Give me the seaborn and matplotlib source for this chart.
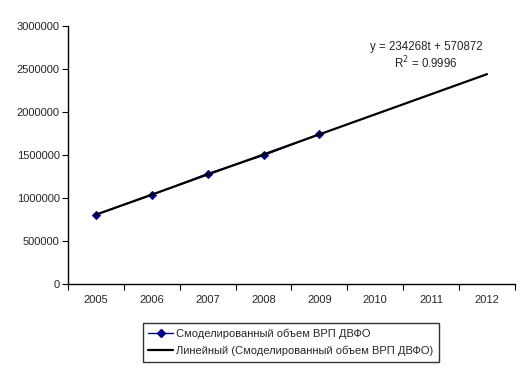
import numpy as np
import pandas as pd
import seaborn as sns
from matplotlib import pyplot as plt
from matplotlib.lines import Line2D

years = ["2005", "2006", "2007", "2008", "2009", "2010", "2011", "2012"]
modeled_years = ["2005", "2006", "2007", "2008", "2009"]
modeled_values = [807000, 1035000, 1285000, 1495000, 1745000]

series_label = "Смоделированный объем ВРП ДВФО"
trend_label = "Линейный (Смоделированный объем ВРП ДВФО)"

sns.set_style("white")
plt.rcParams["font.family"] = ["Liberation Sans", "DejaVu Sans"]

df = pd.DataFrame({"pos": [years.index(y) for y in modeled_years], "value": modeled_values})

# linear trend (as Excel does), fitted on t = 1..5 and extended to 2012
t = np.arange(1, len(modeled_values) + 1)
slope, intercept = np.polyfit(t, modeled_values, 1)
t_all = np.arange(1, len(years) + 1)
trend = pd.DataFrame({"pos": t_all - 1, "value": slope * t_all + intercept})

fig = plt.figure(figsize=(5.29, 3.77), dpi=100)
ax = fig.add_axes([0.1285, 0.2467, 0.845, 0.684])

navy = "#000080"
sns.lineplot(data=df, x="pos", y="value", ax=ax, color=navy, marker="D",
             markersize=4, markeredgecolor=navy, linewidth=1)
sns.lineplot(data=trend, x="pos", y="value", ax=ax, color="black", linewidth=1.6)

ax.set_xlim(-0.5, len(years) - 0.5)
ax.set_ylim(0, 3000000)
ax.set_yticks(np.arange(0, 3000001, 500000))
ax.set_yticklabels([str(v) for v in range(0, 3000001, 500000)], fontsize=8)
ax.set_xticks(np.arange(-0.5, len(years), 1))
ax.set_xticklabels([])
ax.set_xticks(np.arange(len(years)), minor=True)
ax.set_xticklabels(years, minor=True, fontsize=8)
ax.tick_params(axis="x", which="major", length=4, direction="out", bottom=True, color="black")
ax.tick_params(axis="x", which="minor", length=0, pad=8)
ax.tick_params(axis="y", length=4, direction="out", left=True, color="black", pad=2)
ax.set_xlabel("")
ax.set_ylabel("")
for side in ["top", "right"]:
    ax.spines[side].set_visible(False)
for side in ["left", "bottom"]:
    ax.spines[side].set_color("black")
    ax.spines[side].set_linewidth(1)

ax.text(5.91, 2756000, "y = 234268t + 570872", ha="center", va="center", fontsize=8.3)
ax.text(5.91, 2570000, "R$^2$ = 0.9996", ha="center", va="center", fontsize=8.3)

handles = [
    Line2D([], [], color=navy, marker="D", markersize=4, linewidth=1),
    Line2D([], [], color="black", linewidth=1.6),
]
leg = fig.legend(handles, [series_label, trend_label], loc="center",
                 bbox_to_anchor=(0.55, 0.0915), fontsize=8, frameon=True,
                 fancybox=False, borderpad=0.5, handlelength=2.2,
                 handletextpad=0.3, labelspacing=0.6)
leg.get_frame().set_edgecolor("black")
leg.get_frame().set_linewidth(1)

fig.savefig("out.png", dpi=100)
